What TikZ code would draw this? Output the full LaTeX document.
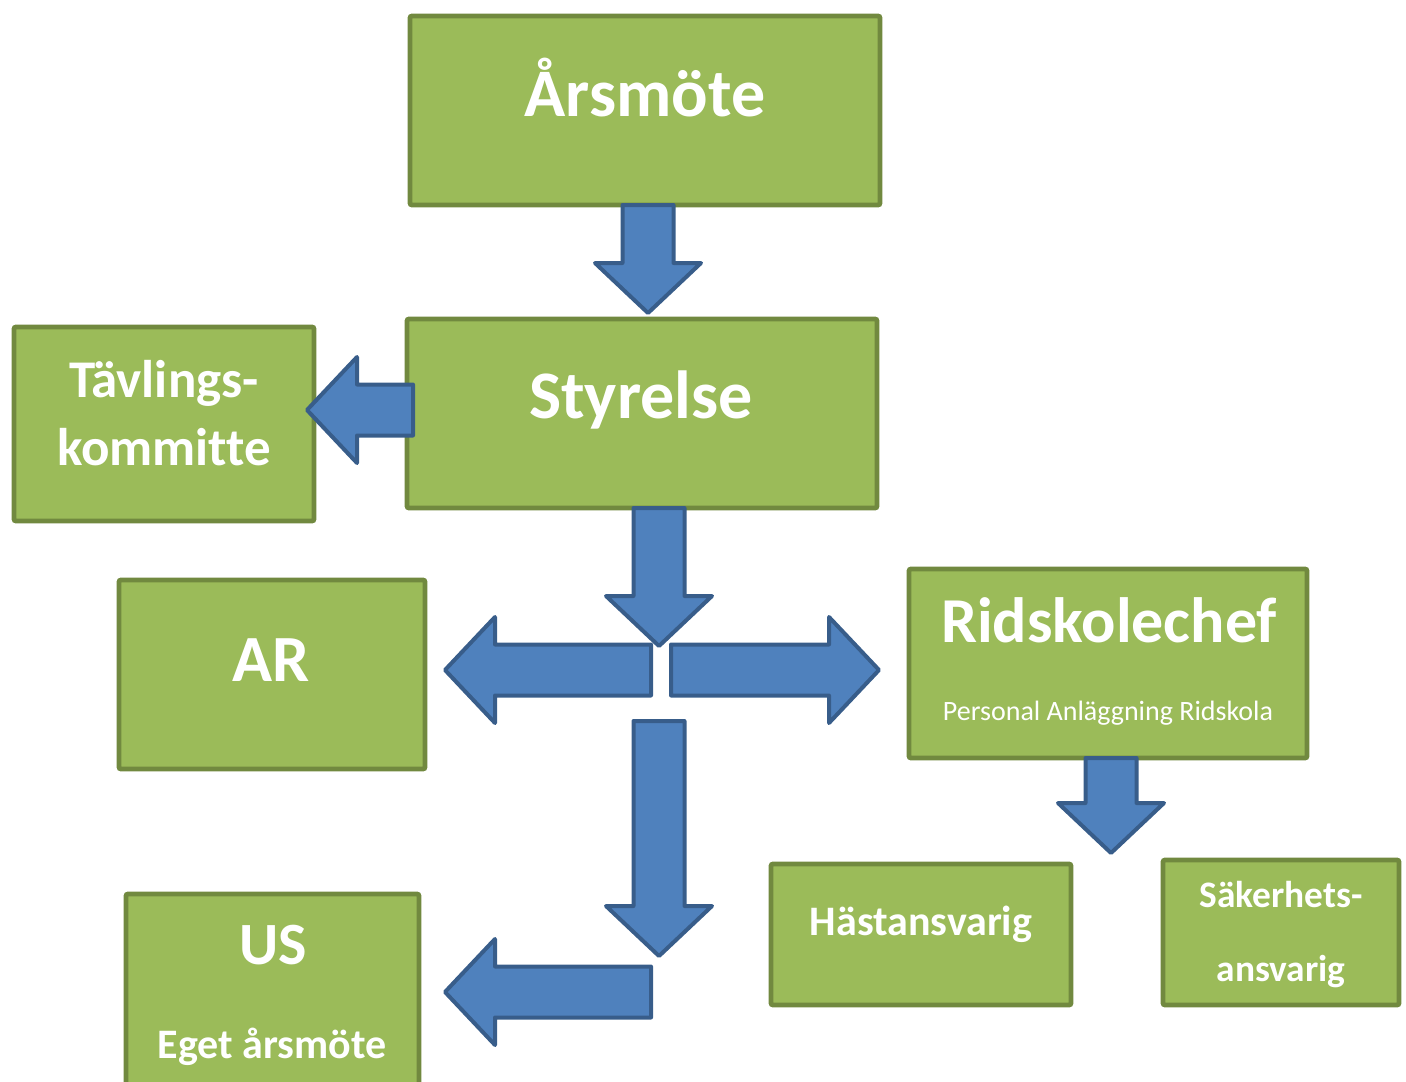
\documentclass[tikz,border=0pt]{standalone}
\usepackage{fontspec}
\setmainfont[Ligatures=NoCommon]{Carlito}
\usetikzlibrary{calc, positioning}
\definecolor{boxgreen}{HTML}{9BBB59}
\definecolor{boxline}{HTML}{71893F}
\definecolor{arrowblue}{HTML}{4F81BD}
\definecolor{arrowline}{HTML}{385D8A}

% block arrow from #1 to the tip #2
\newcommand{\blockarrow}[2]{%
  \coordinate (hb) at ($(#2)!25pt!(#1)$);
  \draw[barrow] ($(#1)!12.75pt!90:(#2)$) -- ($(hb)!12.75pt!90:(#2)$)
    -- ($(hb)!26.5pt!90:(#2)$) -- (#2) -- ($(hb)!26.5pt!-90:(#2)$)
    -- ($(hb)!12.75pt!-90:(#2)$) -- ($(#1)!12.75pt!-90:(#2)$) -- cycle;}

\begin{document}
\begin{tikzpicture}[x=0.5pt,y=-0.5pt,align=center]
\tikzstyle{box}=[draw=boxline,fill=boxgreen,line width=2.4pt,rounded corners=1pt,inner sep=0pt]
\tikzstyle{barrow}=[draw=arrowline,fill=arrowblue,line width=2pt,line join=round]
\tikzstyle{txt}=[text=white,anchor=base,inner sep=0pt]

\useasboundingbox (0,0) rectangle (1406,1081);
\clip (0,0) rectangle (1406,1081);

% boxes
\node[box, minimum width=235pt, minimum height=94.5pt] (ars) at (645,110.5) {};
\node[box, minimum width=235pt, minimum height=94.5pt] (sty) at (642,413.5) {};
\node[box, minimum width=150pt, minimum height=97pt] (tav) at (164,424) {};
\node[box, minimum width=153pt, minimum height=94.5pt] (ar) at (272,674.5) {};
\node[box, minimum width=199pt, minimum height=94.5pt] (rid) at (1108,663.5) {};
\node[box, minimum width=146.5pt, minimum height=97.5pt] (us) at (272.5,991.5) {};
\node[box, minimum width=150pt, minimum height=70.5pt] (hast) at (921,934.5) {};
\node[box, minimum width=118pt, minimum height=72.5pt] (sak) at (1281,932.5) {};

% arrow ends
\coordinate (a1s) at (648,205);  \coordinate (a1e) at (648,313);
\coordinate (a2s) at (413,410);  \coordinate (a2e) at (307,410);
\coordinate (a3s) at (659,508);  \coordinate (a3e) at (659,646);
\coordinate (a4s) at (651,670);  \coordinate (a4e) at (445,670);
\coordinate (a5s) at (671,670);  \coordinate (a5e) at (879,670);
\coordinate (a6s) at (659,721);  \coordinate (a6e) at (659,956);
\coordinate (a7s) at (651,992);  \coordinate (a7e) at (445,992);
\coordinate (a8s) at (1111,758); \coordinate (a8e) at (1111,853);

\blockarrow{a1s}{a1e}
\blockarrow{a2s}{a2e}
\blockarrow{a3s}{a3e}
\blockarrow{a4s}{a4e}
\blockarrow{a5s}{a5e}
\blockarrow{a6s}{a6e}
\blockarrow{a7s}{a7e}
\blockarrow{a8s}{a8e}

% texts
\node[txt, font=\fontsize{34}{40}\selectfont\bfseries] (arst) at (645,117) {Årsmöte};
\node[txt, font=\fontsize{34}{40}\selectfont\bfseries] (styt) at (641,418) {Styrelse};
\node[txt, font=\fontsize{26.5}{30}\selectfont\bfseries] (tavt1) at (164,397) {Tävlings-};
\node[txt, font=\fontsize{26.5}{30}\selectfont\bfseries] (tavt2) at (164,465) {kommitte};
\node[txt, font=\fontsize{33}{40}\selectfont\bfseries] (art) at (271,681) {AR};
\node[txt, font=\fontsize{32}{40}\selectfont\bfseries] (ridt) at (1109,642) {Ridskolechef};
\node[txt, font=\fontsize{14}{17}\selectfont] (ridsub) at (1108,720) {Personal Anläggning Ridskola};
\node[txt, font=\fontsize{30}{36}\selectfont\bfseries] (ust) at (273,964) {US};
\node[txt, font=\fontsize{21}{25}\selectfont\bfseries] (ussub) at (272,1058) {Eget årsmöte};
\node[txt, font=\fontsize{21}{25}\selectfont\bfseries] (hastt) at (921,935) {Hästansvarig};
\node[txt, font=\fontsize{18.7}{22}\selectfont\bfseries] (sakt1) at (1281,907) {Säkerhets-};
\node[txt, font=\fontsize{18.7}{22}\selectfont\bfseries] (sakt2) at (1281,981) {ansvarig};
\end{tikzpicture}
\end{document}
